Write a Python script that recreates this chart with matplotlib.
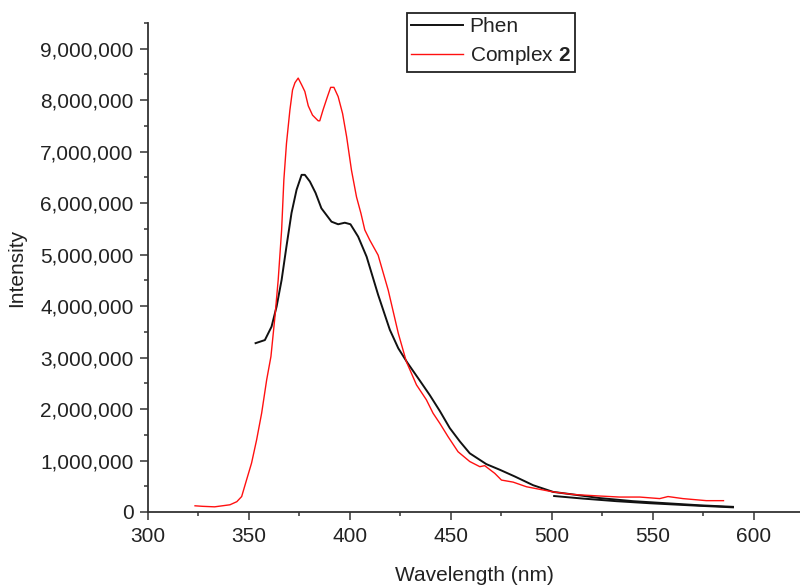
import matplotlib
matplotlib.use("Agg")
import matplotlib.pyplot as plt
from matplotlib.ticker import MultipleLocator, StrMethodFormatter

plt.rcParams['font.family'] = ['Liberation Sans', 'DejaVu Sans']
plt.rcParams['mathtext.fontset'] = 'custom'
plt.rcParams['mathtext.rm'] = 'Liberation Sans'
plt.rcParams['mathtext.bf'] = 'Liberation Sans:bold'

# Phen emission (main trace)
phen_x = [353.3, 357.9, 361.2, 363.7, 366.2, 368.6, 371.1, 373.6, 376.1, 377.7,
          380.2, 383.0, 385.9, 390.9, 394.2, 397.5, 400.3, 404.1, 408.3, 414.0,
          419.8, 424.0, 428.5, 434.7, 439.6, 444.6, 449.5, 454.5, 459.4, 467.6,
          474.3, 481.7, 490.8, 500.7, 510.6, 523.8, 540.3, 556.8, 573.3, 589.8]
phen_y = [3.28, 3.34, 3.60, 3.99, 4.51, 5.16, 5.81, 6.26, 6.55, 6.55,
          6.42, 6.20, 5.90, 5.64, 5.59, 5.62, 5.59, 5.35, 4.96, 4.22,
          3.54, 3.18, 2.90, 2.55, 2.27, 1.96, 1.63, 1.37, 1.14, 0.93,
          0.82, 0.69, 0.52, 0.39, 0.34, 0.27, 0.21, 0.17, 0.13, 0.10]
# second Phen trace segment seen from 500 nm onwards
phen_tail_x = [501.2, 515.6, 532.0, 548.5, 573.3, 589.8]
phen_tail_y = [0.31, 0.26, 0.21, 0.17, 0.12, 0.09]

# Complex 2 emission
cplx_x = [323.3, 327.0, 333.0, 340.6, 344.0, 346.4, 348.8, 351.3, 353.8, 356.3,
          358.8, 360.9, 362.9, 364.5, 366.2, 367.3, 368.6, 370.3, 371.6, 372.8,
          374.4, 376.1, 377.7, 379.4, 381.5, 384.3, 385.1, 386.7, 388.9, 390.5,
          392.1, 394.2, 396.4, 398.4, 400.8, 403.3, 405.5, 407.4, 409.9, 414.0,
          419.0, 424.0, 428.0, 433.0, 437.9, 441.2, 444.6, 448.7, 453.6, 459.4,
          464.4, 466.8, 471.8, 475.1, 480.9, 487.5, 494.1, 500.7, 510.6, 523.8,
          533.7, 543.6, 553.5, 557.6, 565.0, 576.6, 585.1]
cplx_y = [0.12, 0.11, 0.10, 0.14, 0.20, 0.30, 0.62, 0.95, 1.40, 1.92,
          2.57, 3.02, 3.80, 4.51, 5.48, 6.45, 7.16, 7.81, 8.20, 8.34,
          8.43, 8.30, 8.17, 7.89, 7.71, 7.60, 7.60, 7.81, 8.07, 8.25,
          8.25, 8.07, 7.74, 7.29, 6.64, 6.12, 5.80, 5.48, 5.28, 4.99,
          4.31, 3.47, 2.92, 2.47, 2.18, 1.92, 1.72, 1.46, 1.17, 0.98,
          0.88, 0.90, 0.75, 0.62, 0.58, 0.49, 0.44, 0.39, 0.34, 0.31,
          0.29, 0.29, 0.26, 0.30, 0.26, 0.22, 0.22]

scale = 1e6
ink = '#222222'

fig = plt.figure(figsize=(8, 5.87), dpi=100)
ax = fig.add_axes([0.185, 0.1278, 0.815, 0.833])

ax.plot(phen_x, [v * scale for v in phen_y], color='#111111', lw=1.4, label='Phen')
ax.plot(phen_tail_x, [v * scale for v in phen_tail_y], color='#111111', lw=1.4)
ax.plot(cplx_x, [v * scale for v in cplx_y], color='#ff1010', lw=1.0,
        label='Complex $\\mathbf{2}$')

ax.set_xlim(300, 623)
ax.set_ylim(0, 9.5e6)
ax.xaxis.set_major_locator(MultipleLocator(50))
ax.xaxis.set_minor_locator(MultipleLocator(25))
ax.yaxis.set_major_locator(MultipleLocator(1e6))
ax.yaxis.set_minor_locator(MultipleLocator(5e5))
ax.yaxis.set_major_formatter(StrMethodFormatter('{x:,.0f}'))

for s in ['top', 'right']:
    ax.spines[s].set_visible(False)
for s in ['left', 'bottom']:
    ax.spines[s].set_linewidth(1.3)
    ax.spines[s].set_color('#333333')

ax.tick_params(which='major', direction='out', length=5.5, width=1.1,
               color='#333333', labelsize=15, labelcolor=ink, pad=5)
ax.tick_params(which='minor', direction='out', length=3, width=1.1, color='#333333')

ax.set_xlabel('Wavelength (nm)', fontsize=15, color=ink, labelpad=15)
ax.set_ylabel('Intensity', fontsize=15, color=ink, labelpad=10)

leg = ax.legend(loc='upper left', bbox_to_anchor=(0.509, 0.978),
                bbox_transform=fig.transFigure, fontsize=15, frameon=True,
                fancybox=False, edgecolor='#222222', framealpha=1,
                borderpad=0.2, labelspacing=0.4, handlelength=2.5,
                handletextpad=0.3, borderaxespad=0)
leg.get_frame().set_linewidth(1.3)
for t in leg.get_texts():
    t.set_color(ink)

fig.savefig('out.png', dpi=100)
